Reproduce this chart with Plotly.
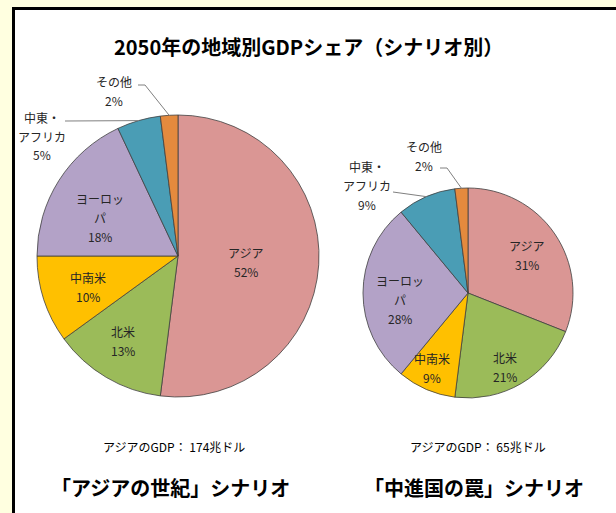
import math
import plotly.graph_objects as go

# data
regions = ['アジア', '北米', '中南米', 'ヨーロッパ', '中東・アフリカ', 'その他']
share_asia_century = [52, 13, 10, 18, 5, 2]
share_middle_trap = [31, 21, 9, 28, 9, 2]
region_colors = ['#DA9694', '#9BBB59', '#FFC000', '#B3A2C7', '#4A9DB5', '#E48A3E']
label_lines = {'ヨーロッパ': ['ヨーロッ', 'パ'], '中東・アフリカ': ['中東・', 'アフリカ']}

title = '2050年の地域別GDPシェア（シナリオ別）'
gdp_notes = ['アジアのGDP： 174兆ドル', 'アジアのGDP： 65兆ドル']
scenarios = ['「アジアの世紀」シナリオ', '「中進国の罠」シナリオ']

W, H = 616, 513
FONT = 'Noto Sans CJK JP'

# layout of each pie in pixels: centre x, centre y, radius
pies = [
    dict(values=share_asia_century, cx=178, cy=256, r=141,
         # pixel position of the first text line of each label
         label_xy=[(246, 252), (123, 331), (88, 277), (100, 198), (42, 117), (114, 81)],
         leaders={4: [(65, 121)], 5: [(138, 85), (145, 85)]}),
    dict(values=share_middle_trap, cx=468, cy=293, r=105,
         label_xy=[(527, 245), (505, 357), (432, 358), (400, 280), (367, 166), (424, 146)],
         leaders={4: [(393, 192)], 5: [(440, 168), (447, 168)]}),
]


def px(x, y):
    return x / W, 1 - y / H


def text(t, x, y, size, color='black'):
    fx, fy = px(x, y)
    return dict(text=t, x=fx, y=fy, xref='paper', yref='paper', showarrow=False,
                xanchor='center', yanchor='middle',
                font=dict(family=FONT, size=size, color=color))


fig = go.Figure()
annotations = []
shapes = [dict(type='rect', xref='paper', yref='paper', layer='below',
               x0=13.5 / W, x1=1.2, y0=-0.2, y1=1 - 8.5 / H,
               fillcolor='white', line=dict(color='black', width=3))]

for p in pies:
    cx, cy, r = p['cx'], p['cy'], p['r']
    fig.add_trace(go.Pie(
        labels=regions, values=p['values'], sort=False, direction='clockwise',
        rotation=0, textinfo='none', showlegend=False,
        marker=dict(colors=region_colors, line=dict(color='#404040', width=0.8)),
        domain=dict(x=[(cx - r) / W, (cx + r) / W], y=[1 - (cy + r) / H, 1 - (cy - r) / H]),
    ))
    total = sum(p['values'])
    cum = 0
    for i, (name, v) in enumerate(zip(regions, p['values'])):
        theta = math.radians(360 * (cum + v / 2) / total)
        cum += v
        lines = label_lines.get(name, [name]) + [f'{v}%']
        lx, ly = p['label_xy'][i]
        for j, t in enumerate(lines):
            annotations.append(text(t, lx, ly + 19 * j, 12, '#262626'))
        if i in p['leaders']:
            pts = p['leaders'][i] + [(cx + r * math.sin(theta), cy - r * math.cos(theta))]
            path = 'M ' + ' L '.join(f'{px(a, b)[0]},{px(a, b)[1]}' for a, b in pts)
            shapes.append(dict(type='path', xref='paper', yref='paper', path=path,
                               line=dict(color='#808080', width=1)))

annotations.append(text(f'<b>{title}</b>', 308, 47, 20))
for xc, note, sc in zip([174, 478], gdp_notes, scenarios):
    annotations.append(text(note, xc, 446, 12))
    annotations.append(text(f'<b>{sc}</b>', xc - 4, 487, 20))

fig.update_layout(width=W, height=H, margin=dict(l=0, r=0, t=0, b=0),
                  paper_bgcolor='#FFFFE0', plot_bgcolor='white',
                  annotations=annotations, shapes=shapes)
fig.write_html('out.html', config={'displayModeBar': False},
               post_script="document.body.style.margin='0';")
